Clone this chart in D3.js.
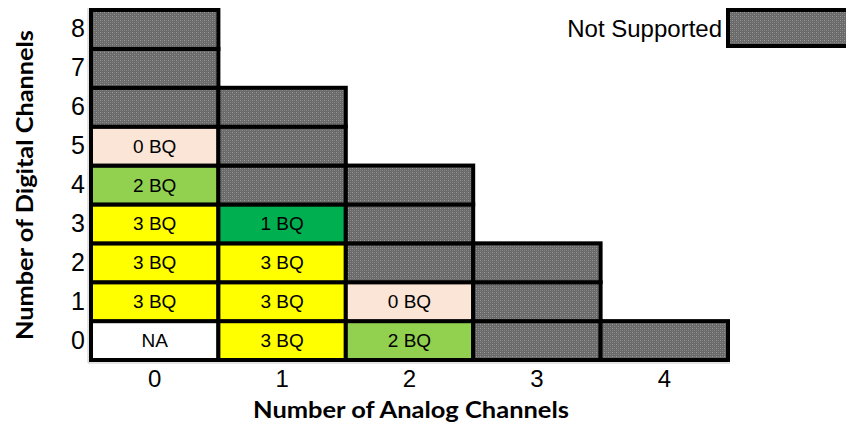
<!DOCTYPE html>
<html>
<head>
<meta charset="utf-8">
<script src="https://cdn.jsdelivr.net/npm/d3@7"></script>
<style>
  html, body { margin: 0; padding: 0; background: #fff; }
  svg { display: block; }
</style>
</head>
<body>
<svg id="chart" width="846" height="426"></svg>
<script>
// ---- data ----
const analogChannels = [0, 1, 2, 3, 4];
const digitalChannels = [0, 1, 2, 3, 4, 5, 6, 7, 8];
// labels per analog column, from 0 digital channels upward ("NS" = not supported)
const column0 = ["NA", "3 BQ", "3 BQ", "3 BQ", "2 BQ", "0 BQ", "NS", "NS", "NS"];
const column1 = ["3 BQ", "3 BQ", "3 BQ", "1 BQ", "NS", "NS", "NS"];
const column2 = ["2 BQ", "0 BQ", "NS", "NS", "NS"];
const column3 = ["NS", "NS", "NS"];
const column4 = ["NS"];
const columns = [column0, column1, column2, column3, column4];
const statusKeys = ["NA", "3 BQ", "2 BQ", "1 BQ", "0 BQ", "NS"];
const statusColors = ["#ffffff", "#ffff00", "#92d050", "#00b050", "#fbe5d6", "url(#ns)"];
const legendLabel = "Not Supported";
const xTitle = "Number of Analog Channels";
const yTitle = "Number of Digital Channels";

const cells = [];
columns.forEach((col, a) => col.forEach((lab, d) => cells.push({ a: analogChannels[a], d: digitalChannels[d], lab })));

const svg = d3.select("#chart");
const defs = svg.append("defs");
const pat = defs.append("pattern").attr("id", "ns").attr("patternUnits", "userSpaceOnUse")
  .attr("width", 4).attr("height", 4);
pat.append("rect").attr("width", 4).attr("height", 4).attr("fill", "#6a6a6a");
pat.append("rect").attr("x", 0).attr("y", 0).attr("width", 1).attr("height", 1).attr("fill", "#9a9a9a");
pat.append("rect").attr("x", 2).attr("y", 2).attr("width", 1).attr("height", 1).attr("fill", "#8c8c8c");
pat.append("rect").attr("x", 2).attr("y", 0).attr("width", 1).attr("height", 1).attr("fill", "#7e7e7e");
pat.append("rect").attr("x", 0).attr("y", 2).attr("width", 1).attr("height", 1).attr("fill", "#7e7e7e");

const color = d3.scaleOrdinal().domain(statusKeys).range(statusColors);
const x = d3.scaleBand().domain(analogChannels).range([91, 728]).padding(0);
const y = d3.scaleBand().domain(digitalChannels).range([360, 10]).padding(0);

// faint axis lines
svg.append("line").attr("x1", 88).attr("x2", 88).attr("y1", 8).attr("y2", 363)
  .attr("stroke", "#c8c8c8").attr("stroke-width", 1);
svg.append("line").attr("x1", 88).attr("x2", 730).attr("y1", 363).attr("y2", 363)
  .attr("stroke", "#c8c8c8").attr("stroke-width", 1);

const g = svg.append("g");
g.selectAll("rect.cell").data(cells).join("rect")
  .attr("class", "cell")
  .attr("x", d => x(d.a))
  .attr("y", d => y(d.d))
  .attr("width", x.bandwidth())
  .attr("height", y.bandwidth())
  .attr("fill", d => color(d.lab))
  .attr("stroke", "#000")
  .attr("stroke-width", 4);

g.selectAll("text.cell").data(cells.filter(d => d.lab !== "NS")).join("text")
  .attr("class", "cell")
  .attr("x", d => x(d.a) + x.bandwidth() / 2)
  .attr("y", d => y(d.d) + y.bandwidth() / 2)
  .attr("text-anchor", "middle")
  .attr("dominant-baseline", "central")
  .attr("font-family", "Liberation Sans, Arial, sans-serif")
  .attr("font-size", 19)
  .attr("fill", "#000")
  .text(d => d.lab);

// axes
const xAxis = svg.append("g").attr("transform", "translate(0,362)")
  .call(d3.axisBottom(x).tickSize(0).tickPadding(8));
xAxis.select(".domain").remove();
xAxis.selectAll("text").attr("font-family", "Liberation Sans, Arial, sans-serif")
  .attr("font-size", 24).attr("fill", "#000").attr("dy", "0.72em");

const yAxis = svg.append("g").attr("transform", "translate(88,0)")
  .call(d3.axisLeft(y).tickSize(0).tickPadding(3));
yAxis.select(".domain").remove();
yAxis.selectAll("text").attr("font-family", "Liberation Sans, Arial, sans-serif")
  .attr("font-size", 25).attr("fill", "#000");

// axis titles
svg.append("text").attr("x", 411).attr("y", 418).attr("text-anchor", "middle")
  .attr("font-family", "Lato, sans-serif").attr("font-weight", "bold").attr("font-size", 22)
  .attr("fill", "#000").attr("textLength", 316).attr("lengthAdjust", "spacingAndGlyphs")
  .text(xTitle);
svg.append("text").attr("transform", "translate(33,185) rotate(-90)").attr("text-anchor", "middle")
  .attr("font-family", "Lato, sans-serif").attr("font-weight", "bold").attr("font-size", 22)
  .attr("fill", "#000").attr("textLength", 310).attr("lengthAdjust", "spacingAndGlyphs")
  .text(yTitle);

// legend
svg.append("rect").attr("x", 728).attr("y", 10).attr("width", 140).attr("height", 36)
  .attr("fill", color("NS")).attr("stroke", "#000").attr("stroke-width", 4);
svg.append("text").attr("x", 722).attr("y", 28).attr("text-anchor", "end")
  .attr("dominant-baseline", "central")
  .attr("font-family", "Liberation Sans, Arial, sans-serif").attr("font-size", 24)
  .attr("fill", "#000").text(legendLabel);
</script>
</body>
</html>
